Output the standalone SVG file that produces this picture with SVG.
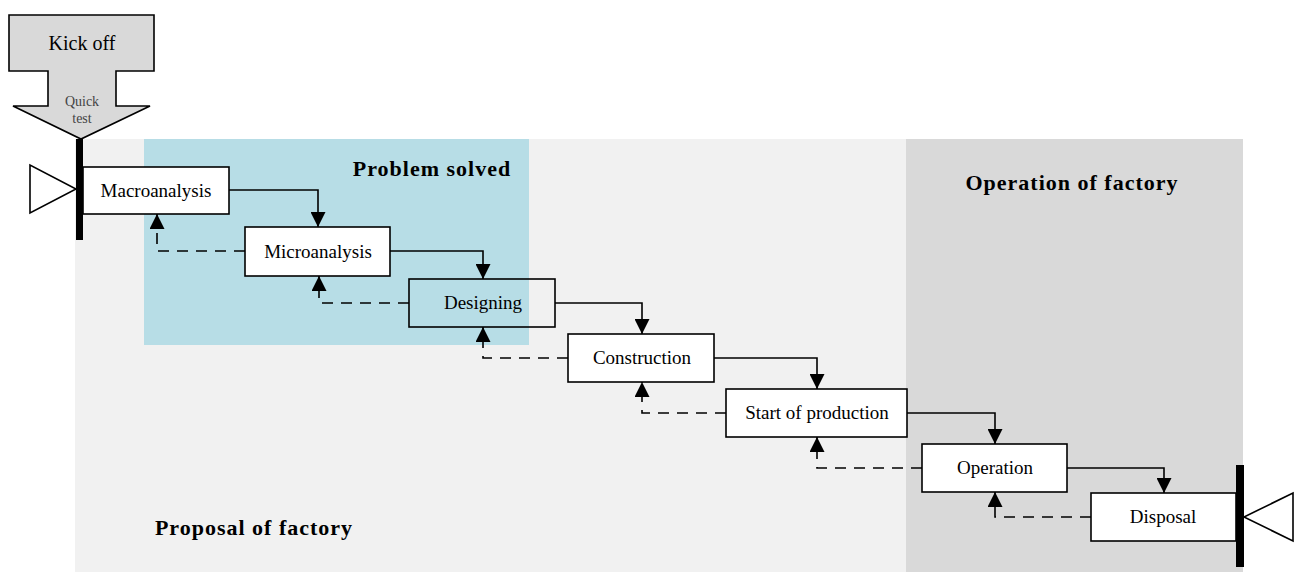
<svg xmlns="http://www.w3.org/2000/svg" width="1294" height="572" viewBox="0 0 1294 572">
<style>
.box{fill:#fff;stroke:#000;stroke-width:1.6}
.lbl{font-family:"Liberation Serif",serif;font-size:19px;fill:#000;text-anchor:middle}
.title{font-family:"Liberation Serif",serif;font-size:22px;font-weight:bold;fill:#000;text-anchor:middle;letter-spacing:1px}
.solid{fill:none;stroke:#000;stroke-width:1.6;marker-end:url(#ah)}
.dash{fill:none;stroke:#000;stroke-width:1.6;stroke-dasharray:11 8;marker-end:url(#ah)}
</style>
<defs>
<marker id="ah" viewBox="0 0 10 10" refX="10" refY="5" markerWidth="15" markerHeight="15" markerUnits="userSpaceOnUse" orient="auto">
<path d="M0,0 L10,5 L0,10 z" fill="#000"/>
</marker>
</defs>
<g id="areas">
<rect x="75" y="139" width="1168" height="433" fill="#f1f1f1"/>
<rect x="144" y="139" width="385" height="206" fill="#b7dde6"/>
<rect x="906" y="139" width="337" height="433" fill="#d9d9d9"/>
<text class="title" x="432" y="176">Problem solved</text>
<text class="title" x="1072" y="190">Operation of factory</text>
<text class="title" x="254" y="535">Proposal of factory</text>
</g>
<g id="kickoff">
<path d="M9,15 H154 V71 H116 V106 H150 L81,139 L13,106 H48 V71 H9 Z" fill="#d9d9d9" stroke="#000" stroke-width="1.6"/>
<text x="82" y="50" style="font-family:'Liberation Serif',serif;font-size:20px;text-anchor:middle">Kick off</text>
<text x="82" y="106" style="font-family:'Liberation Serif',serif;font-size:14px;fill:#444;text-anchor:middle">Quick</text>
<text x="82" y="123" style="font-family:'Liberation Serif',serif;font-size:14px;fill:#444;text-anchor:middle">test</text>
</g>
<g id="start-marker">
<polygon points="30,165 30,213 76,189" fill="#fff" stroke="#000" stroke-width="1.6"/>
<rect x="76" y="139" width="7" height="101" fill="#000"/>
</g>
<g id="end-marker">
<polygon points="1293,493 1293,541 1244,517" fill="#fff" stroke="#000" stroke-width="1.6"/>
<rect x="1236" y="465" width="8" height="102" fill="#000"/>
</g>
<g id="connectors">
<path class="solid" d="M229,190 H318 V227"/>
<path class="solid" d="M390,251 H483 V279"/>
<path class="solid" d="M555,303 H642 V334"/>
<path class="solid" d="M714,358 H817 V389"/>
<path class="solid" d="M907,413 H995 V444"/>
<path class="solid" d="M1067,468 H1164 V493"/>
<path class="dash" d="M245,251 H157 V214"/>
<path class="dash" d="M409,303 H319 V276"/>
<path class="dash" d="M568,358 H483 V327"/>
<path class="dash" d="M726,413 H642 V382"/>
<path class="dash" d="M922,468 H817 V437"/>
<path class="dash" d="M1091,517 H995 V492"/>
</g>
<g id="macroanalysis"><rect class="box" x="83" y="167" width="146" height="47"/><text class="lbl" x="156" y="197">Macroanalysis</text></g>
<g id="microanalysis"><rect class="box" x="245" y="227" width="145" height="49"/><text class="lbl" x="318" y="258">Microanalysis</text></g>
<g id="designing"><rect class="box" x="409" y="279" width="146" height="48" style="fill:none"/><text class="lbl" x="483" y="309">Designing</text></g>
<g id="construction"><rect class="box" x="568" y="334" width="146" height="48"/><text class="lbl" x="642" y="364">Construction</text></g>
<g id="start-of-production"><rect class="box" x="726" y="389" width="181" height="48"/><text class="lbl" x="817" y="419">Start of production</text></g>
<g id="operation"><rect class="box" x="922" y="444" width="145" height="48"/><text class="lbl" x="995" y="474">Operation</text></g>
<g id="disposal"><rect class="box" x="1091" y="493" width="145" height="48"/><text class="lbl" x="1163" y="523">Disposal</text></g>
</svg>
